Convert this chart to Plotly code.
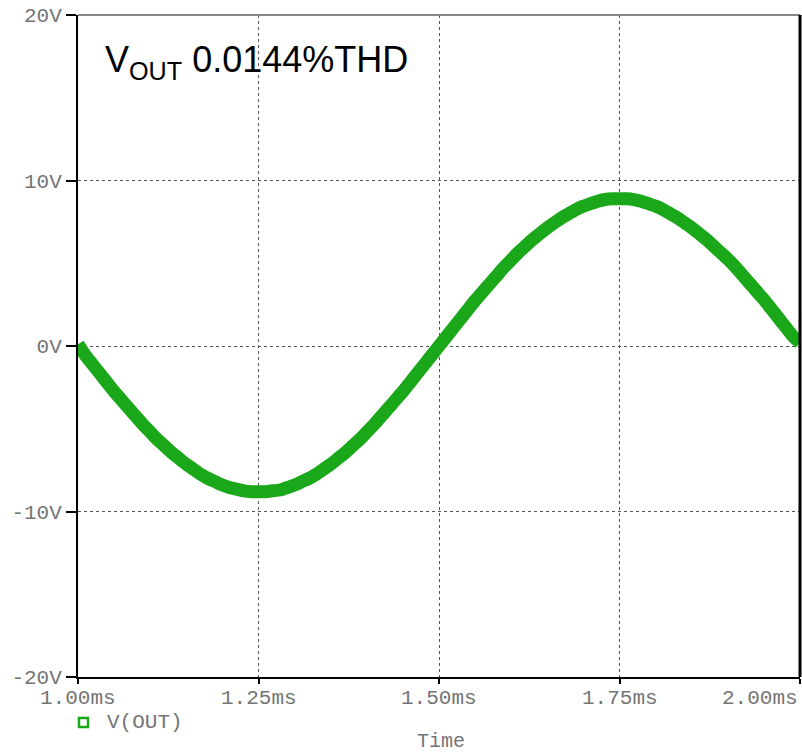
import plotly.graph_objects as go

# Transient output voltage, V(OUT), sampled every 10 us over one period
time_ms = [
    1.00, 1.01, 1.02, 1.03, 1.04, 1.05, 1.06, 1.07, 1.08, 1.09,
    1.10, 1.11, 1.12, 1.13, 1.14, 1.15, 1.16, 1.17, 1.18, 1.19,
    1.20, 1.21, 1.22, 1.23, 1.24, 1.25, 1.26, 1.27, 1.28, 1.29,
    1.30, 1.31, 1.32, 1.33, 1.34, 1.35, 1.36, 1.37, 1.38, 1.39,
    1.40, 1.41, 1.42, 1.43, 1.44, 1.45, 1.46, 1.47, 1.48, 1.49,
    1.50, 1.51, 1.52, 1.53, 1.54, 1.55, 1.56, 1.57, 1.58, 1.59,
    1.60, 1.61, 1.62, 1.63, 1.64, 1.65, 1.66, 1.67, 1.68, 1.69,
    1.70, 1.71, 1.72, 1.73, 1.74, 1.75, 1.76, 1.77, 1.78, 1.79,
    1.80, 1.81, 1.82, 1.83, 1.84, 1.85, 1.86, 1.87, 1.88, 1.89,
    1.90, 1.91, 1.92, 1.93, 1.94, 1.95, 1.96, 1.97, 1.98, 1.99,
    2.00,
]
v_out = [
    0.10, -0.55, -1.10, -1.65, -2.20, -2.75, -3.25, -3.75, -4.25, -4.75,
    -5.20, -5.65, -6.05, -6.45, -6.80, -7.15, -7.45, -7.75, -8.00, -8.20,
    -8.40, -8.55, -8.65, -8.75, -8.80, -8.80, -8.80, -8.75, -8.70, -8.55,
    -8.40, -8.20, -8.00, -7.75, -7.45, -7.15, -6.80, -6.45, -6.05, -5.65,
    -5.20, -4.75, -4.25, -3.75, -3.25, -2.75, -2.20, -1.65, -1.10, -0.55,
    0.00, 0.55, 1.10, 1.65, 2.20, 2.75, 3.25, 3.75, 4.25, 4.75,
    5.20, 5.65, 6.05, 6.45, 6.80, 7.15, 7.45, 7.75, 8.00, 8.25,
    8.45, 8.60, 8.75, 8.85, 8.90, 8.90, 8.90, 8.85, 8.75, 8.60,
    8.45, 8.25, 8.00, 7.75, 7.45, 7.15, 6.80, 6.45, 6.05, 5.65,
    5.25, 4.80, 4.30, 3.80, 3.30, 2.80, 2.25, 1.70, 1.15, 0.60,
    0.20,
]

x_ticks = [1.00, 1.25, 1.50, 1.75, 2.00]
x_tick_labels = ["1.00ms", "1.25ms", "1.50ms", "1.75ms", "2.00ms"]
y_ticks = [-20, -10, 0, 10, 20]
y_tick_labels = ["-20V", "-10V", "0V", "10V", "20V"]

GREEN = "#1aa81a"
MONO = "Liberation Mono, Courier New, monospace"
LABEL_GREY = "#747474"

W, H = 802, 753
ML, MR, MT, MB = 78, 2, 15, 76
PW, PH = W - ML - MR, H - MT - MB


def px(xp):
    return (xp - ML) / PW


def py(yp):
    return (H - MB - yp) / PH


fig = go.Figure()
fig.add_trace(go.Scatter(
    x=time_ms, y=v_out, mode="lines",
    line=dict(color=GREEN, width=13, shape="spline", smoothing=0.6),
    name="V(OUT)", showlegend=False,
))

fig.update_xaxes(
    range=[x_ticks[0], x_ticks[-1]],
    tickvals=x_ticks, showticklabels=False,
    ticks="outside", ticklen=5, tickwidth=2, tickcolor="black",
    showline=True, linecolor="black", linewidth=2,
    showgrid=True, gridcolor="#555555", griddash="dot", gridwidth=1,
    zeroline=False,
)
fig.update_yaxes(
    range=[y_ticks[0], y_ticks[-1]],
    tickvals=y_ticks, ticktext=y_tick_labels,
    tickfont=dict(family=MONO, size=21, color=LABEL_GREY),
    ticks="outside", ticklen=10, tickwidth=2, tickcolor="black",
    showline=True, linecolor="black", linewidth=2,
    showgrid=True, gridcolor="#555555", griddash="dot", gridwidth=1,
    zeroline=False,
)

annotations = []
for i, (tv, tl) in enumerate(zip(x_ticks, x_tick_labels)):
    xa = "right" if i == len(x_ticks) - 1 else "center"
    annotations.append(dict(
        x=tv, xref="x", y=py(698), yref="paper", text=tl, showarrow=False,
        xanchor=xa, yanchor="middle",
        font=dict(family=MONO, size=21, color=LABEL_GREY),
    ))
annotations.append(dict(
    x=px(105), xref="paper", y=py(722), yref="paper", text="V(OUT)",
    showarrow=False, xanchor="left", yanchor="middle",
    font=dict(family=MONO, size=21, color=LABEL_GREY),
))
annotations.append(dict(
    x=px(441), xref="paper", y=py(742), yref="paper", text="Time",
    showarrow=False, xanchor="center", yanchor="middle",
    font=dict(family=MONO, size=20, color=LABEL_GREY),
))
annotations.append(dict(
    x=px(103), xref="paper", y=py(62), yref="paper",
    text="V<sub>OUT</sub> 0.0144%THD",
    showarrow=False, xanchor="left", yanchor="middle",
    font=dict(family="Liberation Sans, Arial, sans-serif", size=36, color="black"),
))

shapes = [
    # top frame edge
    dict(type="line", xref="paper", yref="paper", x0=0, x1=1, y0=1, y1=1,
         line=dict(color="#888888", width=2)),
    # right frame edge
    dict(type="line", xref="paper", yref="paper", x0=1, x1=1, y0=0, y1=1,
         line=dict(color="black", width=3)),
    # legend marker
    dict(type="rect", xref="paper", yref="paper",
         x0=px(79), x1=px(88), y0=py(727), y1=py(718),
         line=dict(color=GREEN, width=2.5), fillcolor="white"),
]

fig.update_layout(
    width=W, height=H,
    margin=dict(l=ML, r=MR, t=MT, b=MB),
    paper_bgcolor="white", plot_bgcolor="white",
    annotations=annotations, shapes=shapes,
    showlegend=False,
)

fig.write_html("out.html")
